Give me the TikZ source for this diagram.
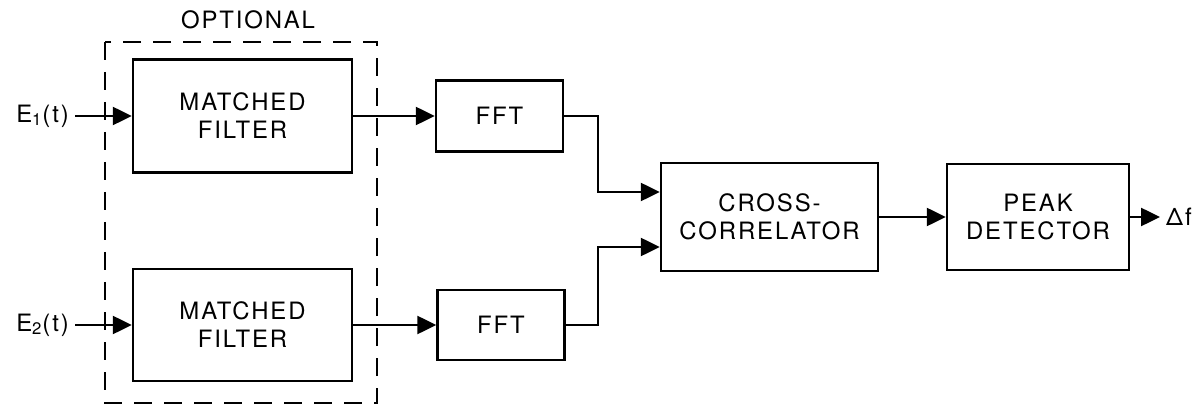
\documentclass[tikz,border=0pt]{standalone}
\usepackage{fontspec}
\setmainfont[LetterSpace=8]{TeX Gyre Heros}
\usetikzlibrary{arrows.meta}

\begin{document}
\begin{tikzpicture}
          [font=\fontsize{13.6}{16}\selectfont,
          block/.style={shape=rectangle,draw=black,line width=1.4pt,align=center,inner sep=0pt},
          arc/.style={-{Triangle[length=3.8mm,width=3.6mm]},line width=1.4pt},
          optional/.style={dash pattern=on 3.6mm off 2.4mm,line width=1.4pt}]

          \useasboundingbox (0,0) rectangle (24,-8.12);

          % optional part
          \draw [optional] (2.1,-0.84) rectangle (7.54,-8.06);
          \node (opt) at (4.96,-0.4) {OPTIONAL};

            \node (m1) [block,minimum width=4.38cm,minimum height=2.26cm] at (4.85,-2.32) {MATCHED\\FILTER};
            \node (m2) [block,minimum width=4.38cm,minimum height=2.24cm] at (4.85,-6.5) {MATCHED\\FILTER};
            \node (f1) [block,minimum width=2.54cm,minimum height=1.42cm] at (9.99,-2.32) {FFT};
            \node (f2) [block,minimum width=2.54cm,minimum height=1.40cm] at (10.02,-6.5) {FFT};
            \node (cc) [block,minimum width=4.34cm,minimum height=2.16cm] at (15.39,-4.34) {CROSS-\\CORRELATOR};
            \node (pd) [block,minimum width=3.64cm,minimum height=2.12cm] at (20.76,-4.34) {PEAK\\DETECTOR};

            \node (e1) [anchor=east] at (1.5,-2.32) {E\textsubscript{1}(t)};
            \node (e2) [anchor=east] at (1.5,-6.5) {E\textsubscript{2}(t)};
            \node (df) [anchor=west] at (23.2,-4.34) {Δf};

          \coordinate (B1) at (11.96,-3.84);
          \coordinate (B2) at (11.96,-4.94);

          \draw [arc] (e1) to (m1);
            \draw [arc] (e2) to (m2);
            \draw [arc] (m1) to (f1);
            \draw [arc] (m2) to (f2);
            \draw [arc] (f1) -| (B1) -- (cc.west |- B1);
            \draw [arc] (f2) -| (B2) -- (cc.west |- B2);
            \draw [arc] (cc) to (pd);
            \draw [arc] (pd) to (df);

        \end{tikzpicture}
\end{document}
